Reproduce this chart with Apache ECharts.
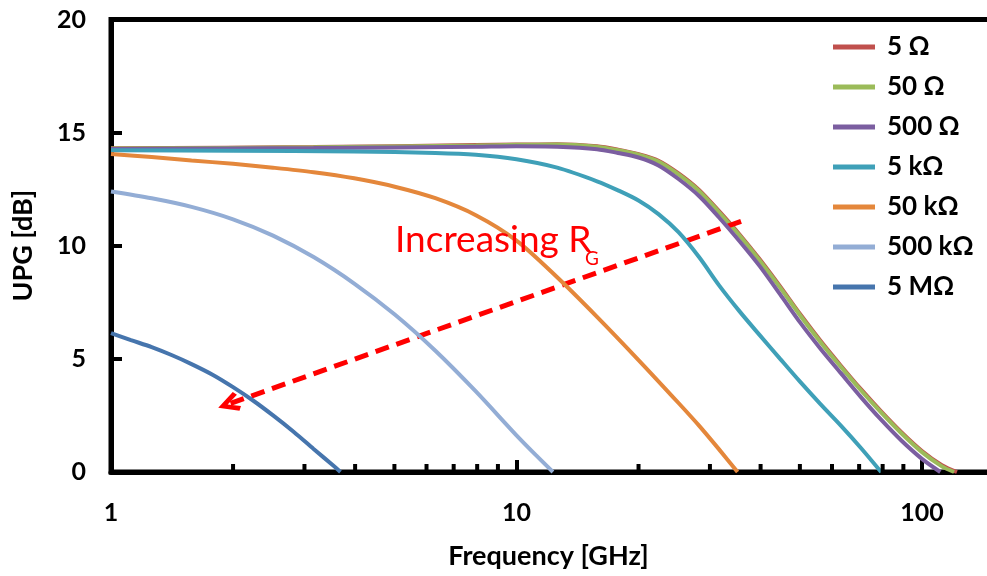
<!DOCTYPE html>
<html>
<head>
<meta charset="utf-8">
<script src="https://cdn.jsdelivr.net/npm/echarts@6/dist/echarts.min.js"></script>
<style>
  html, body { margin: 0; padding: 0; background: #fff; }
  #chart { width: 987px; height: 576px; }
</style>
</head>
<body>
<div id="chart"></div>
<script>
// Unilateral power gain (dB) versus frequency (GHz) for several gate resistances R_G
const seriesNames = ['5 Ω', '50 Ω', '500 Ω', '5 kΩ', '50 kΩ', '500 kΩ', '5 MΩ'];
const seriesColors = ['#C0504D', '#9BBB59', '#7B5EA0', '#3FA0B8', '#E4873B', '#93ADD5', '#4675AD'];

// [frequency GHz, UPG dB]
const upg5Ohm = [[1,14.31],[3.16,14.36],[7.94,14.45],[10,14.47],[12.6,14.49],[15.8,14.4],[17.8,14.25],[20,14.05],[22.4,13.76],[25.1,13.2],[28.2,12.47],[31.6,11.53],[35.5,10.5],[39.8,9.4],[44.7,8.2],[50.1,6.97],[56.2,5.8],[63.1,4.7],[70.8,3.65],[79.4,2.67],[89.1,1.75],[100,0.93],[112,0.3],[122,0]];
const upg50Ohm = [[1,14.3],[3.16,14.35],[7.94,14.43],[10,14.46],[12.6,14.48],[15.8,14.38],[17.8,14.22],[20,14.02],[22.4,13.72],[25.1,13.15],[28.2,12.42],[31.6,11.48],[35.5,10.45],[39.8,9.35],[44.7,8.15],[50.1,6.92],[56.2,5.75],[63.1,4.65],[70.8,3.6],[79.4,2.62],[89.1,1.7],[100,0.88],[112,0.25],[120,0]];
const upg500Ohm = [[1,14.28],[3.16,14.32],[7.94,14.38],[10,14.4],[12.6,14.38],[15.8,14.27],[17.8,14.1],[20,13.9],[22.4,13.55],[25.1,12.95],[28.2,12.2],[31.6,11.25],[35.5,10.2],[39.8,9.1],[44.7,7.85],[50.1,6.6],[56.2,5.45],[63.1,4.37],[70.8,3.3],[79.4,2.3],[89.1,1.38],[100,0.58],[111,0]];
const upg5k = [[1,14.22],[2,14.2],[3.98,14.17],[6.31,14.1],[7.94,14.02],[10,13.82],[12.6,13.45],[15.8,12.85],[17.8,12.45],[20,12.0],[22.4,11.4],[25.1,10.6],[28.2,9.5],[31.6,8.25],[35.5,7.1],[39.8,6.05],[44.7,5.0],[50.1,3.98],[56.2,3.0],[63.1,2.05],[70.8,1.05],[79.3,0]];
const upg50k = [[1,14.06],[1.26,13.92],[1.58,13.77],[2,13.62],[2.51,13.45],[3.16,13.25],[3.98,12.98],[5.01,12.61],[6.31,12.1],[7.94,11.35],[10,10.23],[12.6,8.61],[15.8,6.86],[20,4.95],[25.1,3.05],[28.2,2.05],[31.6,1.0],[35.1,0]];
const upg500k = [[1,12.4],[1.26,12.1],[1.58,11.72],[2,11.17],[2.51,10.45],[3.16,9.5],[3.98,8.33],[5.01,6.96],[6.31,5.36],[7.94,3.56],[10,1.62],[11.2,0.72],[12.3,0]];
const upg5M = [[1,6.14],[1.12,5.83],[1.26,5.52],[1.41,5.17],[1.58,4.77],[1.78,4.3],[2,3.75],[2.24,3.16],[2.51,2.5],[2.82,1.78],[3.16,1.02],[3.55,0.25],[3.68,0]];
const seriesData = [upg5Ohm, upg50Ohm, upg500Ohm, upg5k, upg50k, upg500k, upg5M];

// minor tick positions between decades
const minorTicks = [2,3,4,5,6,7,8,9,20,30,40,50,60,70,80,90];

// "Increasing R_G" arrow, from the high-R_G end down to the low end
const arrowFrom = [35.8, 11.08];
const arrowTo = [1.95, 3.0];

const FONT = 'Lato, "Liberation Sans", sans-serif';

const chart = echarts.init(document.getElementById('chart'), null, { renderer: 'canvas' });

const lineSeries = seriesNames.map((name, i) => ({
  name: name,
  type: 'line',
  data: seriesData[i],
  symbol: 'none',
  smooth: 0.3,
  color: seriesColors[i],
  lineStyle: { width: 4, color: seriesColors[i] },
  z: 3 + i,
  animation: false
}));

const option = {
  animation: false,
  backgroundColor: '#ffffff',
  grid: {
    left: 111, top: 19.5, bottom: 104, right: -57,
    outerBoundsMode: 'none', containLabel: false,
    show: true, borderColor: '#000', borderWidth: 5, backgroundColor: 'transparent'
  },
  legend: {
    orient: 'vertical',
    left: 833, top: 34,
    padding: 0,
    itemGap: 14,
    itemWidth: 42, itemHeight: 5,
    icon: 'rect',
    data: seriesNames,
    textStyle: { fontFamily: FONT, fontWeight: 'bold', fontSize: 26, color: '#000', lineHeight: 26, padding: [0, 0, 0, 7] }
  },
  xAxis: {
    type: 'log', logBase: 10, min: 1, max: 200,
    name: 'Frequency [GHz]', nameLocation: 'middle', nameGap: 71,
    nameTextStyle: { fontFamily: FONT, fontWeight: 'bold', fontSize: 27, color: '#000', padding: [0, 58, 0, 0] },
    axisLine: { show: true, lineStyle: { color: '#000', width: 5 } },
    axisTick: { show: true, inside: true, length: 12, lineStyle: { color: '#000', width: 4 } },
    axisLabel: { margin: 28, fontFamily: FONT, fontWeight: 'bold', fontSize: 25, color: '#000' },
    splitLine: { show: false }
  },
  yAxis: {
    type: 'value', min: 0, max: 20, interval: 5,
    name: 'UPG [dB]', nameLocation: 'middle', nameGap: 74,
    nameTextStyle: { fontFamily: FONT, fontWeight: 'bold', fontSize: 27, color: '#000' },
    axisLine: { show: true, lineStyle: { color: '#000', width: 5 } },
    axisTick: { show: true, inside: true, length: 11, lineStyle: { color: '#000', width: 4 } },
    axisLabel: { margin: 25, fontFamily: FONT, fontWeight: 'bold', fontSize: 25, color: '#000' },
    splitLine: { show: false }
  },
  series: [
    ...lineSeries,
    {
      name: 'minor ticks',
      type: 'custom',
      data: minorTicks.map(f => [f, 0]),
      silent: true,
      z: 20,
      clip: false,
      renderItem: function (params, api) {
        const p = api.coord([api.value(0), api.value(1)]);
        return { type: 'rect', shape: { x: p[0] - 2, y: p[1] - 8, width: 4, height: 8 }, style: { fill: '#000' } };
      }
    },
    {
      name: 'arrow',
      type: 'line',
      data: [],
      silent: true,
      z: 15,
      markLine: {
        silent: true,
        animation: false,
        symbol: ['none', 'path://M10,0 L20,19 L16,22 L10,10 L4,22 L0,19 Z'],
        symbolSize: [20, 22],
        label: { show: false },
        lineStyle: { color: '#FF0000', width: 5, type: [14, 8] },
        data: [[{ coord: arrowFrom }, { coord: arrowTo }]]
      }
    }
  ],
  graphic: [
    {
      type: 'text', left: 395, top: 222, z: 30,
      style: { text: 'Increasing R', fontFamily: FONT, fontSize: 37, fill: '#FF0000' }
    },
    {
      type: 'text', left: 585, top: 249, z: 30,
      style: { text: 'G', fontFamily: FONT, fontSize: 19, fill: '#FF0000' }
    }
  ]
};

chart.setOption(option);
</script>
</body>
</html>
